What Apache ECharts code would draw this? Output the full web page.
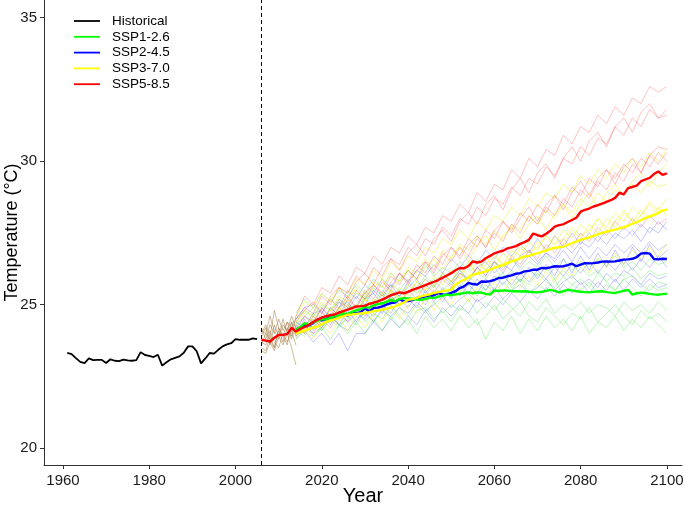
<!DOCTYPE html>
<html>
<head>
<meta charset="utf-8">
<script src="https://cdn.jsdelivr.net/npm/echarts@6/dist/echarts.min.js"></script>
<style>
html,body{margin:0;padding:0;background:#fff;}
#chart{width:685px;height:505px;}
</style>
</head>
<body>
<div id="chart"></div>
<script>
// ---------------- DATA ----------------
const xTicks = [1960, 1980, 2000, 2020, 2040, 2060, 2080, 2100];
const yTicks = [20, 25, 30, 35];
const scenarioNames = ['Historical', 'SSP1-2.6', 'SSP2-4.5', 'SSP3-7.0', 'SSP5-8.5'];
const splitYear = 2006;

// Historical observations 1961-2005
const histStart = 1961;
const historical = [
  23.32, 23.28, 23.14, 23.01, 22.97, 23.13, 23.07, 23.08, 23.08, 22.97,
  23.10, 23.05, 23.04, 23.09, 23.06, 23.05, 23.07, 23.35, 23.25, 23.22,
  23.18, 23.26, 22.88, 23.00, 23.10, 23.15, 23.20, 23.33, 23.55, 23.55,
  23.38, 22.96, 23.13, 23.32, 23.30, 23.43, 23.55, 23.62, 23.66, 23.80,
  23.78, 23.78, 23.78, 23.83, 23.80
];

// Ensemble mean SSP5-8.5, 2006-2100
const ssp585Start = 2006;
const ssp585Mean = [
  23.78, 23.75, 23.72, 23.85, 23.95, 23.95, 23.98, 24.19, 24.07, 24.16,
  24.22, 24.30, 24.40, 24.48, 24.55, 24.60, 24.64, 24.66, 24.73, 24.78,
  24.83, 24.88, 24.94, 24.95, 24.97, 25.03, 25.07, 25.12, 25.18, 25.25,
  25.33, 25.38, 25.43, 25.40, 25.45, 25.52, 25.57, 25.62, 25.68, 25.74,
  25.80, 25.86, 25.94, 26.02, 26.10, 26.20, 26.28, 26.27, 26.35, 26.51,
  26.47, 26.50, 26.62, 26.70, 26.79, 26.84, 26.88, 26.96, 27.00, 27.04,
  27.12, 27.18, 27.26, 27.48, 27.42, 27.38, 27.47, 27.58, 27.72, 27.77,
  27.80, 27.88, 27.95, 28.03, 28.24, 28.30, 28.35, 28.42, 28.47, 28.52,
  28.58, 28.64, 28.72, 28.90, 28.84, 29.06, 29.10, 29.15, 29.30, 29.36,
  29.42, 29.55, 29.64, 29.52, 29.57
];

// Ensemble means 2014-2100
const scenStart = 2014;
const ssp245Mean = [
  24.13, 24.20, 24.30, 24.28, 24.36, 24.48, 24.46, 24.50, 24.57, 24.55,
  24.62, 24.65, 24.63, 24.71, 24.70, 24.74, 24.88, 24.77, 24.88, 24.90,
  24.94, 25.00, 25.06, 25.08, 25.20, 25.12, 25.13, 25.16, 25.23, 25.25,
  25.29, 25.29, 25.33, 25.41, 25.36, 25.35, 25.41, 25.47, 25.58, 25.64,
  25.76, 25.72, 25.70, 25.81, 25.80, 25.82, 25.86, 25.93, 25.94, 25.99,
  26.02, 26.08, 26.10, 26.16, 26.18, 26.22, 26.22, 26.28, 26.27, 26.30,
  26.34, 26.33, 26.34, 26.38, 26.43, 26.34, 26.40, 26.45, 26.44, 26.45,
  26.47, 26.50, 26.51, 26.50, 26.51, 26.54, 26.57, 26.58, 26.60, 26.66,
  26.78, 26.80, 26.78, 26.59, 26.58, 26.60, 26.59
];
const ssp126Mean = [
  24.13, 24.22, 24.35, 24.30, 24.38, 24.45, 24.50, 24.48, 24.55, 24.60,
  24.62, 24.70, 24.68, 24.75, 24.80, 24.85, 24.92, 24.90, 24.98, 25.02,
  25.05, 25.10, 25.17, 25.12, 25.20, 25.23, 25.22, 25.20, 25.18, 25.17,
  25.20, 25.25, 25.23, 25.28, 25.32, 25.35, 25.33, 25.36, 25.38, 25.41,
  25.43, 25.40, 25.43, 25.42, 25.38, 25.35, 25.50, 25.48, 25.50, 25.49,
  25.47, 25.47, 25.46, 25.47, 25.45, 25.44, 25.43, 25.45, 25.48, 25.52,
  25.48, 25.43, 25.47, 25.52, 25.50, 25.47, 25.45, 25.44, 25.43, 25.45,
  25.46, 25.47, 25.44, 25.42, 25.41, 25.45, 25.48, 25.52, 25.35, 25.40,
  25.42, 25.41, 25.38, 25.36, 25.35, 25.37, 25.38
];
const ssp370Mean = [
  24.00, 24.05, 24.10, 24.15, 24.20, 24.24, 24.32, 24.40, 24.45, 24.50,
  24.55, 24.60, 24.65, 24.66, 24.68, 24.70, 24.71, 24.74, 24.78, 24.80,
  24.83, 24.86, 24.90, 24.94, 25.00, 25.08, 25.17, 25.20, 25.24, 25.29,
  25.33, 25.36, 25.41, 25.44, 25.47, 25.50, 25.52, 25.70, 25.80, 25.87,
  25.95, 26.05, 26.08, 26.12, 26.16, 26.22, 26.28, 26.34, 26.38, 26.45,
  26.51, 26.55, 26.62, 26.68, 26.70, 26.75, 26.80, 26.84, 26.88, 26.95,
  26.98, 27.00, 27.02, 27.08, 27.15, 27.20, 27.26, 27.30, 27.35, 27.40,
  27.45, 27.50, 27.54, 27.58, 27.62, 27.66, 27.70, 27.75, 27.82, 27.88,
  27.95, 28.02, 28.08, 28.12, 28.20, 28.28, 28.31
];

// Individual model runs, historical-forcing part 2006-2014 (yearly)
const modelHistStart = 2006;
const modelHistRuns = [
  [23.9, 24.2, 23.6, 24.3, 23.9, 24.5, 24.0, 24.4, 23.9],
  [23.5, 23.4, 23.9, 23.5, 24.1, 23.7, 24.2, 23.8, 24.3],
  [24.1, 24.0, 24.6, 24.1, 23.8, 24.3, 24.1, 24.6, 24.2],
  [23.4, 23.3, 23.7, 23.4, 23.9, 23.6, 24.0, 23.5, 22.9],
  [24.0, 24.3, 23.9, 24.8, 24.2, 23.9, 24.4, 24.2, 24.5],
  [23.7, 23.6, 24.1, 23.7, 23.5, 24.0, 23.7, 24.1, 23.6],
  [23.6, 24.0, 23.8, 23.5, 24.2, 23.9, 23.6, 24.4, 24.0],
  [24.2, 23.8, 24.3, 24.0, 24.5, 24.1, 24.4, 23.9, 24.6]
];

// Individual model runs per scenario, every 2 years 2014-2100
const runStart = 2014, runStep = 2;
const ssp126Runs = [
  [23.8,24.3,23.9,24.2,23.8,24.3,24.0,24.4,24.0,24.5,24.1,24.6,24.2,24.5,24.0,24.6,24.2,24.5,24.1,24.6,24.2,24.5,23.8,24.4,24.1,24.6,24.0,24.5,24.1,24.6,24.2,24.5,24.1,24.6,24.0,24.4,24.2,24.6,24.1,24.5,24.2,24.6,24.3,24.0],
  [24.1,23.9,24.4,24.1,24.5,24.2,24.6,24.3,24.8,24.4,24.9,24.5,24.9,24.6,25.0,24.7,25.1,24.7,25.0,24.8,25.2,24.7,25.1,24.8,25.2,24.9,24.6,25.1,24.8,25.2,24.7,25.0,24.8,25.1,24.7,25.0,24.9,24.6,25.1,24.8,25.0,24.7,25.1,24.8],
  [24.4,24.2,24.7,24.4,24.9,24.6,25.0,24.7,25.3,24.9,25.4,25.0,25.5,25.2,25.6,25.3,25.7,25.2,25.6,25.4,25.8,25.3,25.7,25.4,25.8,25.5,25.9,25.4,25.7,25.5,25.9,25.3,25.7,25.5,25.8,25.4,25.7,25.5,25.9,25.6,25.3,25.7,25.5,25.6],
  [24.5,24.8,24.6,25.0,24.8,25.2,25.0,25.4,25.2,25.6,25.3,25.7,25.5,25.9,25.6,26.0,25.7,26.1,25.8,26.2,25.8,26.1,25.9,26.3,25.9,26.2,25.8,26.2,26.0,26.3,25.9,26.2,25.9,26.3,26.0,26.2,25.8,26.1,26.0,26.3,25.9,26.2,26.0,26.1],
  [24.7,25.2,24.9,25.4,25.1,25.5,25.3,25.7,25.4,25.9,25.6,26.1,25.8,26.2,25.9,26.4,26.0,26.3,26.1,26.5,26.2,26.6,26.2,26.5,26.3,26.6,26.2,26.5,26.3,26.7,26.3,26.6,26.2,26.5,26.3,26.6,26.4,26.7,26.3,26.5,26.2,26.6,26.4,26.5],
  [24.0,24.4,24.2,24.1,24.6,24.3,24.5,24.9,24.4,24.7,24.5,25.0,24.6,24.3,24.8,24.9,24.5,24.8,24.4,24.9,24.7,24.3,24.6,25.0,24.5,24.8,25.1,24.6,24.4,24.9,24.6,24.3,24.7,24.5,24.9,24.4,24.7,25.0,24.6,24.3,24.8,24.5,24.7,24.4],
  [24.3,24.6,24.9,24.5,24.8,25.1,24.9,25.0,25.4,25.1,25.5,25.2,25.3,25.7,25.4,25.6,25.9,25.5,25.8,25.6,26.0,25.7,25.5,25.9,26.1,25.6,25.9,25.7,26.1,25.8,25.6,26.0,25.7,25.9,25.6,26.1,25.8,25.5,25.9,26.0,25.7,25.5,25.8,25.7]
];
const ssp245Runs = [
  [23.8,24.1,23.7,24.0,23.6,24.0,23.4,24.0,24.0,24.4,24.1,24.5,24.2,24.6,24.3,24.8,24.4,24.9,24.6,25.0,24.7,25.2,24.9,25.3,25.0,25.4,25.1,25.5,25.2,25.6,25.3,25.7,25.4,25.8,25.4,25.8,25.5,25.9,25.5,25.9,25.6,25.9,25.6,25.7],
  [24.3,24.0,24.5,24.2,24.7,24.3,24.8,24.4,24.9,24.6,25.0,24.7,25.2,24.9,25.3,25.0,25.5,25.1,25.6,25.3,25.7,25.4,25.9,25.5,26.0,25.7,26.1,25.8,26.2,25.9,26.3,26.0,26.4,26.1,26.5,26.1,26.5,26.2,26.6,26.2,26.6,26.3,26.7,26.3],
  [24.2,24.6,24.4,24.9,24.5,25.1,24.8,25.3,25.0,25.5,25.2,25.7,25.3,25.8,25.5,25.9,25.6,26.1,25.8,26.2,25.9,26.3,26.0,26.5,26.1,26.6,26.3,26.7,26.4,26.8,26.5,26.9,26.5,27.0,26.6,27.0,26.7,27.1,26.8,27.1,26.8,27.2,26.9,27.1],
  [24.5,24.9,25.0,24.7,25.2,24.9,25.5,25.2,25.7,25.4,25.9,25.6,26.1,25.8,26.2,26.0,26.4,26.1,26.6,26.3,26.7,26.4,26.9,26.6,27.0,26.7,27.1,26.8,27.3,26.9,27.4,27.0,27.5,27.1,27.5,27.2,27.6,27.3,27.7,27.4,27.8,27.5,27.9,27.6],
  [24.0,24.5,24.1,24.6,24.3,24.8,24.4,24.7,24.5,25.0,24.7,25.3,25.0,25.2,24.9,25.5,25.1,25.6,25.2,25.7,25.4,25.9,25.5,26.0,25.7,26.1,25.8,26.3,25.9,26.4,26.0,26.6,26.1,26.7,26.2,26.8,26.3,26.9,26.4,27.0,26.5,27.1,26.6,26.9],
  [24.4,24.2,24.7,24.8,24.4,24.9,25.1,24.7,25.2,25.4,25.0,25.5,25.3,25.6,25.9,25.4,25.8,26.0,25.7,26.1,25.9,26.3,26.5,26.1,26.4,26.2,26.7,26.9,26.5,26.8,26.6,27.1,26.8,27.2,27.0,27.4,27.1,27.5,27.3,27.6,27.2,27.7,27.5,27.9],
  [23.9,24.3,24.0,24.2,24.6,24.3,24.1,24.5,24.7,24.4,24.8,24.6,24.9,24.7,25.1,24.8,25.0,25.3,24.9,25.2,25.4,25.1,25.3,25.6,25.2,25.5,25.7,25.4,25.6,25.9,25.5,25.8,26.0,25.7,25.9,25.6,26.1,25.8,26.2,26.0,25.7,26.1,25.9,26.0]
];
const ssp370Runs = [
  [23.9,24.2,23.8,24.3,24.0,24.5,24.1,24.6,24.2,24.7,24.4,24.9,24.5,25.0,24.7,25.2,24.8,25.3,25.0,25.5,25.1,25.6,25.3,25.8,25.4,25.9,25.6,26.0,25.7,26.2,25.8,26.3,26.0,26.5,26.1,26.6,26.3,26.8,26.4,26.9,26.6,27.0,26.7,27.1],
  [24.2,24.0,24.5,24.3,24.8,24.5,25.0,24.7,25.2,24.9,25.4,25.1,25.6,25.3,25.8,25.5,26.0,25.7,26.2,25.9,26.4,26.1,26.6,26.3,26.8,26.5,27.0,26.7,27.2,26.9,27.4,27.1,27.6,27.3,27.8,27.5,28.0,27.7,28.2,27.9,28.3,28.0,28.4,28.1],
  [24.4,24.8,24.6,25.1,24.8,25.3,25.1,25.6,25.3,25.8,25.6,26.1,25.8,26.3,26.1,26.6,26.3,26.9,26.6,27.1,26.9,27.4,27.1,27.6,27.3,27.8,27.6,28.1,27.8,28.3,28.0,28.5,28.2,28.7,28.4,28.9,28.6,29.0,28.8,29.2,28.9,29.3,29.1,29.2],
  [24.6,25.1,24.9,25.4,25.1,25.6,25.4,25.9,25.7,26.2,25.9,26.5,26.2,26.7,26.5,27.0,26.8,27.3,27.1,27.6,27.3,27.9,27.6,28.1,27.9,28.4,28.1,28.7,28.4,28.9,28.7,29.2,28.9,29.5,29.2,29.7,29.4,29.9,29.6,30.1,29.8,30.3,30.0,30.4],
  [24.1,24.4,24.2,24.6,24.4,24.9,24.6,25.0,24.8,25.2,25.0,25.5,25.2,25.7,25.4,25.9,25.6,26.1,25.8,26.3,26.0,26.5,26.2,26.7,26.4,26.9,26.7,27.2,26.9,27.4,27.1,27.6,27.3,27.8,27.5,28.0,27.7,28.2,27.9,28.4,28.1,28.6,28.3,28.7],
  [24.3,24.7,24.4,24.9,25.2,24.8,25.3,25.5,25.1,25.6,25.9,25.4,25.9,26.2,25.8,26.3,26.6,26.2,26.7,27.0,26.5,27.1,27.4,26.9,27.4,27.7,27.3,27.8,28.1,27.6,28.2,28.5,28.0,28.5,28.9,28.4,28.9,29.2,28.8,29.3,29.6,29.1,29.6,29.9],
  [24.0,24.2,24.6,24.3,24.5,24.9,24.6,24.8,25.2,24.9,25.1,25.5,25.2,25.4,25.8,25.5,25.7,26.1,25.8,26.0,26.5,26.1,26.4,26.8,26.4,26.7,27.1,26.8,27.0,27.4,27.1,27.3,27.7,27.4,27.6,28.0,27.6,27.9,28.3,27.9,28.1,28.5,28.2,28.3]
];
const ssp585Runs = [
  [23.9,24.3,24.0,24.5,24.2,24.7,24.4,24.9,24.6,25.1,24.8,25.3,25.0,25.5,25.2,25.7,25.4,25.9,25.6,26.1,25.8,26.3,26.0,26.5,26.2,26.7,26.4,26.9,26.6,27.1,26.8,27.3,27.0,27.5,27.2,27.7,27.4,27.9,27.6,28.0,27.7,28.1,27.8,28.0],
  [24.2,24.0,24.6,24.3,24.9,24.6,25.2,24.9,25.5,25.2,25.8,25.5,26.1,25.8,26.4,26.1,26.7,26.4,27.0,26.7,27.3,27.0,27.6,27.3,27.9,27.6,28.2,27.9,28.5,28.2,28.8,28.5,29.1,28.8,29.4,29.1,29.7,29.4,29.9,29.6,30.1,29.8,30.3,30.0],
  [24.5,24.9,24.7,25.3,25.0,25.6,25.4,26.0,25.7,26.3,26.0,26.6,26.4,27.0,26.7,27.3,27.1,27.7,27.4,28.0,27.8,28.4,28.1,28.7,28.5,29.1,28.8,29.4,29.2,29.8,29.5,30.1,29.9,30.5,30.2,30.8,30.6,31.2,30.9,31.5,31.2,31.8,31.5,31.6],
  [24.6,25.3,25.0,25.6,25.4,26.0,25.7,26.3,26.1,26.7,26.4,27.0,26.8,27.4,27.1,27.7,27.5,28.1,27.9,28.5,28.2,28.9,28.6,29.2,29.0,29.7,29.4,30.1,29.8,30.4,30.2,30.9,30.6,31.2,31.0,31.6,31.3,31.9,31.6,32.2,32.0,32.6,32.4,32.6],
  [24.1,24.6,24.3,24.9,24.6,25.2,24.9,25.5,25.2,25.7,25.4,26.0,25.7,26.2,25.9,26.5,26.2,26.8,26.5,27.0,26.7,27.3,27.0,27.5,27.2,27.8,27.5,28.1,27.8,28.4,28.1,28.7,28.4,29.0,28.7,29.3,29.0,29.6,29.3,29.9,29.6,30.2,29.9,30.3],
  [24.4,24.8,25.1,24.7,25.3,25.6,25.2,25.8,26.1,25.7,26.3,26.6,26.2,26.8,27.1,26.7,27.3,27.6,27.2,27.9,28.2,27.8,28.5,28.8,28.3,29.0,29.4,28.9,29.6,29.9,29.4,30.1,30.5,30.0,30.7,31.0,30.5,31.2,31.5,31.0,31.7,32.0,31.5,31.8],
  [24.0,24.4,24.2,24.7,24.5,24.9,25.3,24.9,25.4,25.7,25.3,25.8,26.1,25.7,26.2,26.5,26.1,26.7,27.0,26.6,27.1,27.4,27.0,27.6,27.9,27.5,28.0,28.4,27.9,28.5,28.8,28.3,28.9,29.3,28.8,29.4,29.7,29.2,29.8,30.1,29.6,30.2,30.5,30.4]
];

// ---------------- STYLE ----------------
const FONT = 'Liberation Sans, Arial, sans-serif';
const colors = {
  'Historical': '#000000',
  'SSP1-2.6': '#00ff00',
  'SSP2-4.5': '#0000ff',
  'SSP3-7.0': '#ffff00',
  'SSP5-8.5': '#ff0000'
};
const thinColors = {
  'SSP1-2.6': 'rgba(0,220,0,0.26)',
  'SSP2-4.5': 'rgba(0,0,255,0.22)',
  'SSP3-7.0': 'rgba(235,235,0,0.42)',
  'SSP5-8.5': 'rgba(255,0,0,0.24)'
};

function toPairs(start, step, arr) {
  return arr.map((v, i) => [start + i * step, v]);
}

const series = [];
function thin(name, data, color) {
  series.push({
    name: name, type: 'line', data: data, showSymbol: false, symbol: 'none',
    silent: true, lineStyle: { width: 1, color: color }, z: 1
  });
}
modelHistRuns.forEach((r, i) => thin('hist-run-' + i, toPairs(modelHistStart, 1, r), 'rgba(160,120,60,0.5)'));
ssp245Runs.forEach((r, i) => thin('ssp245-run-' + i, toPairs(runStart, runStep, r), thinColors['SSP2-4.5']));
ssp126Runs.forEach((r, i) => thin('ssp126-run-' + i, toPairs(runStart, runStep, r), thinColors['SSP1-2.6']));
ssp370Runs.forEach((r, i) => thin('ssp370-run-' + i, toPairs(runStart, runStep, r), thinColors['SSP3-7.0']));
ssp585Runs.forEach((r, i) => thin('ssp585-run-' + i, toPairs(runStart, runStep, r), thinColors['SSP5-8.5']));

function thick(name, data, width, z) {
  series.push({
    name: name, type: 'line', data: data, showSymbol: false, symbol: 'none',
    lineStyle: { width: width, color: colors[name] }, itemStyle: { color: colors[name] }, z: z
  });
}
thick('Historical', toPairs(histStart, 1, historical), 1.8, 5);
series[series.length - 1].markLine = {
  silent: true, symbol: ['none', 'none'], label: { show: false },
  lineStyle: { type: [4, 3], color: '#000', width: 1 },
  data: [{ xAxis: splitYear }]
};
thick('SSP2-4.5', toPairs(scenStart, 1, ssp245Mean), 2.4, 6);
thick('SSP1-2.6', toPairs(scenStart, 1, ssp126Mean), 2.4, 7);
thick('SSP3-7.0', toPairs(scenStart, 1, ssp370Mean), 2.4, 8);
thick('SSP5-8.5', toPairs(ssp585Start, 1, ssp585Mean), 2.4, 9);

const axisCommon = {
  axisLine: { show: true, lineStyle: { color: '#333', width: 1 } },
  axisTick: { show: true, inside: false, length: 4, lineStyle: { color: '#333', width: 1 } },
  splitLine: { show: false }
};

const option = {
  animation: false,
  backgroundColor: '#ffffff',
  textStyle: { fontFamily: FONT },
  grid: { left: 44, right: 3, top: 0, bottom: 40, containLabel: false, outerBoundsMode: 'none' },
  legend: {
    orient: 'vertical', left: 69, top: 9,
    itemWidth: 26, itemHeight: 14, itemGap: 1.8,
    selectedMode: false,
    textStyle: { fontFamily: FONT, fontSize: 13.5, color: '#000', lineHeight: 14, padding: [0, 0, 0, 7] },
    data: scenarioNames.map(n => ({
      name: n,
      icon: 'path://M0,6.6 L26,6.6 L26,8.4 L0,8.4 Z',
      itemStyle: { color: colors[n] }
    }))
  },
  xAxis: Object.assign({}, axisCommon, {
    type: 'value', min: 1955.6, max: 2103.5,
    name: 'Year', nameLocation: 'middle', nameGap: 21, nameMoveOverlap: false,
    nameTextStyle: { fontFamily: FONT, fontSize: 20, color: '#000', verticalAlign: 'top' },
    axisTick: Object.assign({}, axisCommon.axisTick, { customValues: xTicks }),
    axisLabel: { customValues: xTicks, formatter: v => String(v), fontFamily: FONT, fontSize: 15, color: '#1a1a1a', margin: 8 }
  }),
  yAxis: Object.assign({}, axisCommon, {
    type: 'value', min: 19.42, max: 35.61,
    name: 'Temperature (°C)', nameLocation: 'middle', nameGap: 23, nameMoveOverlap: false,
    nameTextStyle: { fontFamily: FONT, fontSize: 18, color: '#000' },
    axisTick: Object.assign({}, axisCommon.axisTick, { customValues: yTicks }),
    axisLabel: { customValues: yTicks, formatter: v => String(v), fontFamily: FONT, fontSize: 15, color: '#1a1a1a', margin: 7 }
  }),
  series: series
};

const chart = echarts.init(document.getElementById('chart'), null, { renderer: 'canvas' });
chart.setOption(option);
</script>
</body>
</html>
